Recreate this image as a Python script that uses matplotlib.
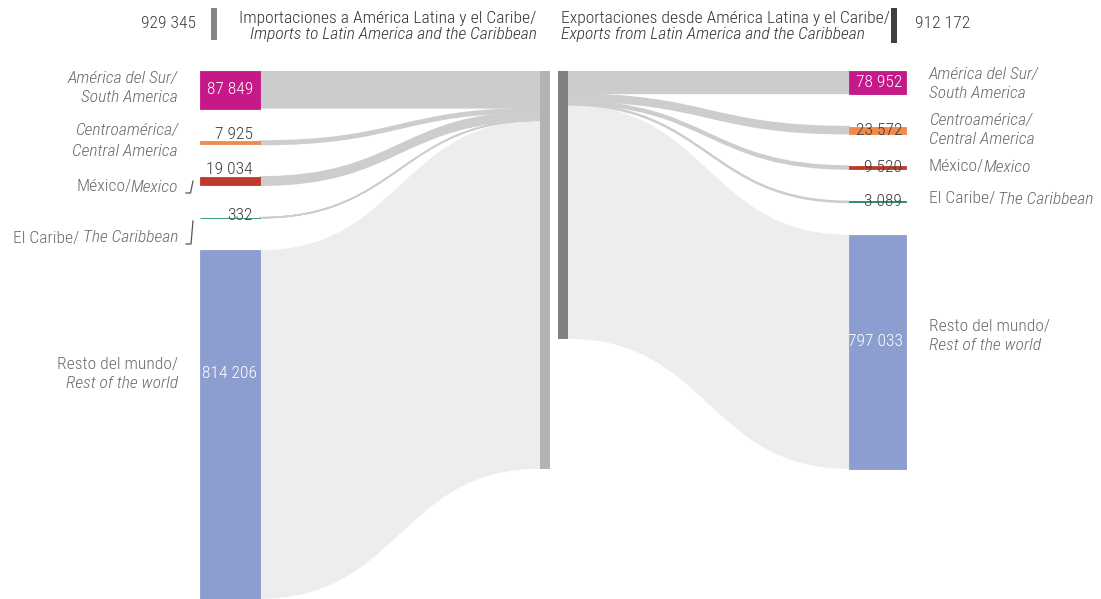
import matplotlib
matplotlib.use("Agg")
import matplotlib.pyplot as plt
from matplotlib import font_manager
from matplotlib.path import Path
from matplotlib.patches import PathPatch

# Datos
regiones_es = ["América del Sur/", "Centroamérica/", "México/", "El Caribe/", "Resto del mundo/"]
regiones_en = ["South America", "Central America", "Mexico", "The Caribbean", "Rest of the world"]
importaciones = [87849, 7925, 19034, 332, 814206]
exportaciones = [78952, 23572, 9520, 3089, 797033]
total_importaciones = 929345
total_exportaciones = 912172
colores = ["#c5198a", "#f08a4b", "#be3a2b", "#1b8a68", "#8c9dcf"]

# Mise en page (pixels)
W, H = 1101, 599
TOP = 71
GAP = 32.5
ESCALA_IZQ = 0.000428
X_IZQ, ANCHO_BARRA = 200, 60
X_CEN_IZQ, X_CEN_DER, ANCHO_CEN = 540, 557.5, 10
X_DER = 849
GRIS_TEXTO = "#6a6a6a"
GRIS_NUM = "#3c3c3c"

# Choix de la police (condensée si possible)
fuentes = font_manager.fontManager.ttflist
nombres = {f.name for f in fuentes}
fuente, estir = "DejaVu Sans", "normal"
for cand in ["Roboto Condensed", "Liberation Sans Narrow", "Open Sans Condensed",
             "Noto Sans Condensed", "Arial Narrow"]:
    if cand in nombres:
        fuente = cand
        break
else:
    for fam in ["Roboto", "Noto Sans", "Open Sans", "DejaVu Sans", "Liberation Sans"]:
        if any(f.name == fam and f.stretch in ("condensed", "semi-condensed") for f in fuentes):
            fuente, estir = fam, "condensed"
            break

fig = plt.figure(figsize=(W / 100, H / 100), dpi=100)
ax = fig.add_axes([0, 0, 1, 1])
ax.set_xlim(0, W)
ax.set_ylim(H, 0)
ax.axis("off")
renderer = fig.canvas.get_renderer()


def ancho(t):
    return t.get_window_extent(renderer).width


# taille de police ajustée à la largeur de l'en-tête
prueba = ax.text(0, 0, "Importaciones a América Latina y el Caribe/", family=fuente,
                 stretch=estir, weight="light", size=10)
FS = max(9.0, min(13.5, 10 * 296 / ancho(prueba)))
prueba.remove()
F = dict(family=fuente, stretch=estir, size=FS, weight="light")


def fmt(v):
    return f"{v:,}".replace(",", " ")


def texto_mixto(x, y, partes, ha, color=GRIS_TEXTO, sep=0.0):
    objs = [ax.text(0, y, c, style=s, va="center", ha="left", color=color, **F)
            for c, s in partes]
    anchos = [ancho(t) for t in objs]
    total = sum(anchos) + sep * (len(objs) - 1)
    x0 = x - total if ha == "right" else x
    for t, w in zip(objs, anchos):
        t.set_x(x0)
        x0 += w + sep


def cinta(x0, a0, b0, x1, a1, b1, color, lw=0.0, z=1):
    xm = (x0 + x1) / 2
    verts = [(x0, a0), (xm, a0), (xm, a1), (x1, a1), (x1, b1),
             (xm, b1), (xm, b0), (x0, b0), (x0, a0)]
    codes = [Path.MOVETO, Path.CURVE4, Path.CURVE4, Path.CURVE4, Path.LINETO,
             Path.CURVE4, Path.CURVE4, Path.CURVE4, Path.CLOSEPOLY]
    ax.add_patch(PathPatch(Path(verts, codes), facecolor=color, edgecolor=color,
                           lw=lw, zorder=z))


# positions des barres
alto_cen = sum(importaciones) * ESCALA_IZQ
ESCALA_DER = (alto_cen - GAP * (len(exportaciones) - 1)) / sum(exportaciones)

def apilar(valores, escala, gap):
    tops, y = [], TOP
    for v in valores:
        tops.append(y)
        y += v * escala + gap
    return tops

tops_izq = apilar(importaciones, ESCALA_IZQ, GAP)
tops_cen_izq = apilar(importaciones, ESCALA_IZQ, 0)
tops_der = apilar(exportaciones, ESCALA_DER, GAP)
tops_cen_der = apilar(exportaciones, ESCALA_DER, 0)

# flux
for i, v in enumerate(importaciones):
    h = v * ESCALA_IZQ
    col = "#ededed" if i == 4 else ("#cbcccd" if i == 0 else "#cdcdcd")
    cinta(X_IZQ + ANCHO_BARRA, tops_izq[i], tops_izq[i] + h,
          X_CEN_IZQ, tops_cen_izq[i], tops_cen_izq[i] + h,
          col, lw=0 if i in (0, 4) else 1.2, z=1 if i == 4 else 2)
for i, v in enumerate(exportaciones):
    h = v * ESCALA_DER
    col = "#ededed" if i == 4 else ("#cbcccd" if i == 0 else "#cdcdcd")
    cinta(X_CEN_DER + ANCHO_CEN, tops_cen_der[i], tops_cen_der[i] + h,
          X_DER, tops_der[i], tops_der[i] + h,
          col, lw=0 if i in (0, 4) else 1.2, z=1 if i == 4 else 2)

# barres
ax.bar(X_IZQ, [v * ESCALA_IZQ for v in importaciones], bottom=tops_izq, width=ANCHO_BARRA,
       align="edge", color=colores, edgecolor=colores, linewidth=0.6, zorder=3)
ax.bar(X_DER, [v * ESCALA_DER for v in exportaciones], bottom=tops_der, width=ANCHO_BARRA - 3,
       align="edge", color=colores, edgecolor=colores, linewidth=0.6, zorder=3)
ax.bar(X_CEN_IZQ, total_importaciones * ESCALA_IZQ, bottom=TOP, width=ANCHO_CEN,
       align="edge", color="#b3b3b3", zorder=3)
ax.bar(X_CEN_DER, total_exportaciones * ESCALA_DER, bottom=TOP, width=ANCHO_CEN,
       align="edge", color="#808080", zorder=3)

# valeurs à gauche
for i, v in enumerate(importaciones):
    h = v * ESCALA_IZQ
    y0 = tops_izq[i]
    if i == 0:
        ax.text(X_IZQ + 53, y0 + h / 2, fmt(v), ha="right", va="center", color="white", zorder=4, **F)
    elif i == 4:
        ax.text(X_IZQ + 30, y0 + 123, fmt(v), ha="center", va="center", color="white", zorder=4, **F)
    elif i == 3:
        ax.text(X_IZQ + 53, y0 - 2, fmt(v), ha="right", va="center", color=GRIS_NUM, zorder=4, **F)
    else:
        ax.text(X_IZQ + 53, y0 - 2.5, fmt(v), ha="right", va="baseline", color=GRIS_NUM, zorder=4, **F)

# valeurs à droite
for i, v in enumerate(exportaciones):
    h = v * ESCALA_DER
    y0 = tops_der[i]
    if i == 0:
        ax.text(X_DER + 53, y0 + h / 2, fmt(v), ha="right", va="center", color="white", zorder=4, **F)
    elif i == 4:
        ax.text(X_DER + 54, y0 + 107, fmt(v), ha="right", va="center", color="white", zorder=4, **F)
    else:
        ax.text(X_DER + 53, y0 + h / 2, fmt(v), ha="right", va="center", color=GRIS_NUM, zorder=4, **F)

# étiquettes de catégories, gauche
XL = 178
texto_mixto(XL, 79, [(regiones_es[0], "italic")], "right")
texto_mixto(XL, 97, [(regiones_en[0], "italic")], "right")
texto_mixto(XL, 131, [(regiones_es[1], "italic")], "right")
texto_mixto(XL, 151, [(regiones_en[1], "italic")], "right")
texto_mixto(XL, 187, [(regiones_es[2], "normal"), (regiones_en[2], "italic")], "right", sep=-1)
texto_mixto(XL, 238, [(regiones_es[3], "normal"), (regiones_en[3], "italic")], "right", sep=3)
texto_mixto(XL, 365, [(regiones_es[4], "normal")], "right")
texto_mixto(XL, 384, [(regiones_en[4], "italic")], "right")
ax.plot([193, 190.5, 186], [181, 193, 193], color="#555555", lw=0.9)
ax.plot([193, 191, 186], [221, 244, 244], color="#555555", lw=0.9)

# étiquettes de catégories, droite
XR = 929
texto_mixto(XR, 75, [(regiones_es[0], "italic")], "left")
texto_mixto(XR, 93, [(regiones_en[0], "italic")], "left")
texto_mixto(XR, 121, [(regiones_es[1], "italic")], "left")
texto_mixto(XR, 139, [(regiones_en[1], "italic")], "left")
texto_mixto(XR, 167, [(regiones_es[2], "normal"), (regiones_en[2], "italic")], "left", sep=-1)
texto_mixto(XR, 199, [(regiones_es[3], "normal"), (regiones_en[3], "italic")], "left", sep=3)
texto_mixto(XR, 327, [(regiones_es[4], "normal")], "left")
texto_mixto(XR, 345, [(regiones_en[4], "italic")], "left")

# en-tête
ax.text(196, 23, fmt(total_importaciones), ha="right", va="center", color=GRIS_NUM, **F)
ax.bar(211, 32, bottom=8, width=6, align="edge", color="#858585")
ax.text(536, 18, "Importaciones a América Latina y el Caribe/", ha="right", va="center",
        color="#333333", **F)
ax.text(537, 34, "Imports to Latin America and the Caribbean", ha="right", va="center",
        style="italic", color="#333333", **F)
ax.text(561, 18, "Exportaciones desde América Latina y el Caribe/", ha="left", va="center",
        color="#333333", **F)
ax.text(561, 34, "Exports from Latin America and the Caribbean", ha="left", va="center",
        style="italic", color="#333333", **F)
ax.bar(891, 35, bottom=8, width=6, align="edge", color="#404040")
ax.text(915, 23, fmt(total_exportaciones), ha="left", va="center", color=GRIS_NUM, **F)

fig.savefig("out.png", dpi=100)
